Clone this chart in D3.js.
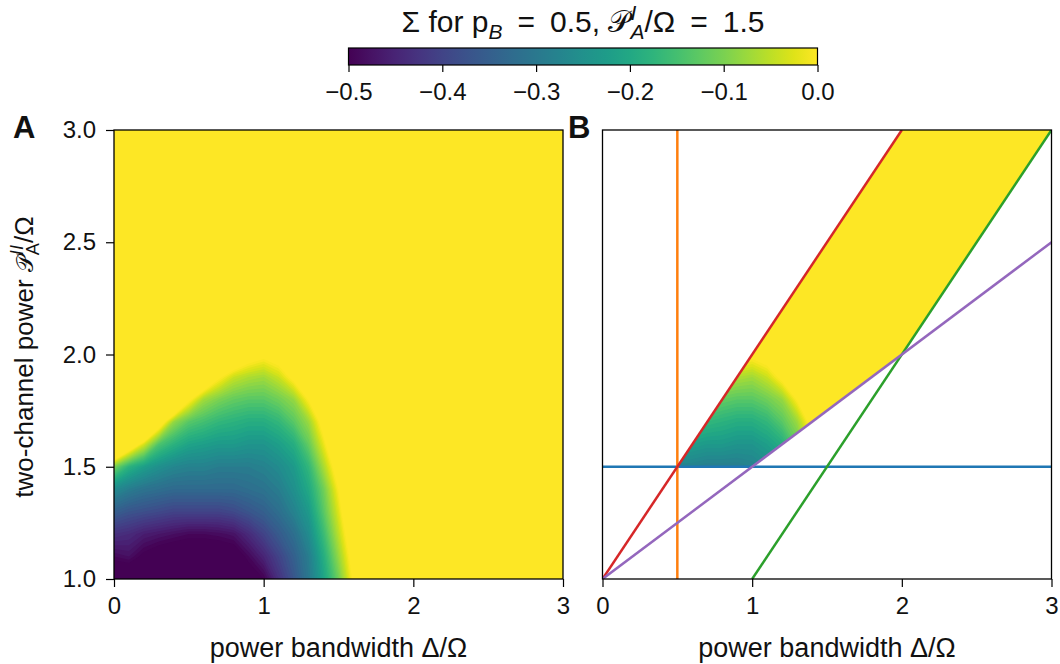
<!DOCTYPE html>
<html>
<head>
<meta charset="utf-8">
<script src="https://cdnjs.cloudflare.com/ajax/libs/d3/7.8.5/d3.min.js"></script>
<style>
  body { margin: 0; background: #fff; }
  svg text { font-family: "Liberation Sans", Arial, sans-serif; fill: #111; }
</style>
</head>
<body>
<div id="chart"></div>
<script>
// Σ map on a 0.1 grid (rows: y = 1.0 .. 2.0, cols: x = 0 .. 1.7).
// Everything >= 0 shows as yellow; the small positive numbers just outside the
// coloured blob only place its edge where the picture has it. Outside the block: 0.
const gridX = [0, 0.1, 0.2, 0.3, 0.4, 0.5, 0.6, 0.7, 0.8, 0.9, 1.0, 1.1, 1.2, 1.3, 1.4, 1.5, 1.6, 1.7];
const gridY = [1.0, 1.1, 1.2, 1.3, 1.4, 1.5, 1.6, 1.7, 1.8, 1.9, 2.0];
const sigmaRows = [
  [-0.55, -0.55, -0.56, -0.57, -0.57, -0.58, -0.58, -0.57, -0.56, -0.53, -0.50, -0.43, -0.37, -0.30, -0.21, -0.11, 0.012, 0],
  [-0.49, -0.48, -0.51, -0.53, -0.54, -0.545, -0.545, -0.54, -0.53, -0.49, -0.45, -0.40, -0.35, -0.29, -0.19, -0.08, 0.034, 0],
  [-0.43, -0.44, -0.46, -0.47, -0.48, -0.49, -0.49, -0.485, -0.475, -0.44, -0.40, -0.36, -0.32, -0.26, -0.16, -0.05, 0.061, 0],
  [-0.35, -0.37, -0.38, -0.39, -0.40, -0.40, -0.40, -0.40, -0.39, -0.37, -0.35, -0.32, -0.28, -0.23, -0.13, -0.025, 0.10, 0],
  [-0.26, -0.29, -0.31, -0.32, -0.33, -0.33, -0.33, -0.33, -0.33, -0.32, -0.31, -0.29, -0.25, -0.20, -0.11, 0.002, 0.10, 0],
  [-0.10, -0.18, -0.22, -0.25, -0.27, -0.28, -0.28, -0.29, -0.29, -0.29, -0.28, -0.26, -0.23, -0.17, -0.065, 0.043, 0, 0],
  [0.23, 0.077, -0.03, -0.14, -0.18, -0.21, -0.22, -0.23, -0.23, -0.24, -0.24, -0.22, -0.19, -0.12, -0.017, 0.10, 0, 0],
  [0, 0, 0.27, 0.06, -0.08, -0.13, -0.15, -0.17, -0.18, -0.19, -0.19, -0.17, -0.13, -0.075, 0.032, 0, 0, 0],
  [0, 0, 0, 0, 0.187, 0.014, -0.07, -0.10, -0.12, -0.13, -0.13, -0.11, -0.08, 0.005, 0, 0, 0, 0],
  [0, 0, 0, 0, 0, 0, 0.105, 0.011, -0.04, -0.06, -0.07, -0.04, 0.02, 0, 0, 0, 0, 0],
  [0, 0, 0, 0, 0, 0, 0, 0, 0.093, 0.04, 0.0175, 0.04, 0, 0, 0, 0, 0, 0]
];

const xDomain = [0, 3];
const yDomain = [1, 3];
const xTicks = [0, 1, 2, 3];
const yTicks = [1.0, 1.5, 2.0, 2.5, 3.0];
const cbDomain = [-0.5, 0];
const cbTicks = [-0.5, -0.4, -0.3, -0.2, -0.1, 0.0];

// panel B: allowed region (heat map shown inside) and boundary lines
const regionB = [[0.5, 1.5], [1, 1.5], [2, 2], [3, 3], [2, 3]];
const lineNames = ['blue', 'orange', 'green', 'red', 'purple'];
const linePoints = [
  [[0, 1.5], [3, 1.5]],
  [[0.5, 1], [0.5, 3]],
  [[1, 1], [3, 3]],
  [[0, 1], [2, 3]],
  [[0, 1], [3, 2.5]]
];
const lineColors = { blue: '#1f77b4', orange: '#ff7f0e', green: '#2ca02c', red: '#d62728', purple: '#9467bd' };

const W = 1060, H = 664;
const svg = d3.select('#chart').append('svg').attr('width', W).attr('height', H);
const defs = svg.append('defs');

const xA = d3.scaleLinear().domain(xDomain).range([114, 563]);
const xB = d3.scaleLinear().domain(xDomain).range([602.5, 1051.5]);
const y = d3.scaleLinear().domain(yDomain).range([579, 130]);
const color = d3.scaleSequential(d3.interpolateViridis).domain(cbDomain).clamp(true);

// full grid over x 0..3, y 1..3 (row 0 = top), for d3.contours
const step = 0.1;
const nx = Math.round((xDomain[1] - xDomain[0]) / step) + 1;
const ny = Math.round((yDomain[1] - yDomain[0]) / step) + 1;
const values = new Array(nx * ny);
for (let j = 0; j < ny; j++) {
  const k = ny - 1 - j;
  for (let i = 0; i < nx; i++) {
    values[j * nx + i] = (k < gridY.length && i < gridX.length) ? sigmaRows[k][i] : 0;
  }
}
const levels = d3.range(-50, 1).map(k => k / 100);
const bands = d3.contours().size([nx, ny]).thresholds(levels)(values);

function mapPath(xs) {
  return d3.geoPath(d3.geoTransform({
    point(px, py) {
      this.stream.point(xs(xDomain[0] - step / 2 + px * step), y(yDomain[1] + step / 2 - py * step));
    }
  }));
}

function drawMap(g, xs) {
  g.append('rect')
    .attr('x', xs(0)).attr('y', y(3)).attr('width', xs(3) - xs(0)).attr('height', y(1) - y(3))
    .attr('fill', color(cbDomain[0]));
  g.selectAll('path.band').data(bands).join('path')
    .attr('class', 'band')
    .attr('d', mapPath(xs))
    .attr('fill', d => color(Math.min(0, d.value + 0.005)));
}

defs.append('clipPath').attr('id', 'clipA').append('rect')
  .attr('x', xA(0)).attr('y', y(3)).attr('width', xA(3) - xA(0)).attr('height', y(1) - y(3));
defs.append('clipPath').attr('id', 'clipB').append('rect')
  .attr('x', xB(0)).attr('y', y(3)).attr('width', xB(3) - xB(0)).attr('height', y(1) - y(3));
const regionPath = d3.line().x(d => xB(d[0])).y(d => y(d[1]));
defs.append('clipPath').attr('id', 'clipRegion').append('path')
  .attr('d', regionPath(regionB) + 'Z');

drawMap(svg.append('g').attr('clip-path', 'url(#clipA)'), xA);
drawMap(svg.append('g').attr('clip-path', 'url(#clipRegion)'), xB);

// panel B lines
const lineGen = d3.line().x(d => xB(d[0])).y(d => y(d[1]));
svg.append('g').attr('clip-path', 'url(#clipB)')
  .selectAll('path').data(linePoints).join('path')
  .attr('d', lineGen)
  .attr('fill', 'none')
  .attr('stroke', (d, i) => lineColors[lineNames[i]])
  .attr('stroke-width', 2.5);

function styleAxis(g) {
  g.attr('font-family', '"Liberation Sans", Arial, sans-serif').attr('font-size', 24);
  g.select('.domain').remove();
  g.selectAll('.tick line').attr('stroke', '#000').attr('stroke-width', 1.2);
  g.selectAll('.tick text').attr('fill', '#111');
}

svg.append('g').attr('transform', `translate(0,${y(1)})`)
  .call(d3.axisBottom(xA).tickValues(xTicks).tickFormat(d3.format('d')).tickSize(8).tickPadding(10))
  .call(styleAxis);
svg.append('g').attr('transform', `translate(0,${y(1)})`)
  .call(d3.axisBottom(xB).tickValues(xTicks).tickFormat(d3.format('d')).tickSize(8).tickPadding(10))
  .call(styleAxis);
svg.append('g').attr('transform', `translate(${xA(0)},0)`)
  .call(d3.axisLeft(y).tickValues(yTicks).tickFormat(d3.format('.1f')).tickSize(8).tickPadding(10))
  .call(styleAxis);

// frames
[xA, xB].forEach(xs => {
  svg.append('rect')
    .attr('x', xs(0)).attr('y', y(3)).attr('width', xs(3) - xs(0)).attr('height', y(1) - y(3))
    .attr('fill', 'none').attr('stroke', '#000').attr('stroke-width', 1.3);
});

// colorbar
const cbX = d3.scaleLinear().domain(cbDomain).range([348.5, 817.5]);
const cbTop = 48, cbH = 17;
const grad = defs.append('linearGradient').attr('id', 'cbGrad');
d3.range(0, 21).forEach(k => {
  grad.append('stop').attr('offset', k / 20).attr('stop-color', d3.interpolateViridis(k / 20));
});
svg.append('rect').attr('x', cbX(-0.5)).attr('y', cbTop).attr('width', cbX(0) - cbX(-0.5)).attr('height', cbH)
  .attr('fill', 'url(#cbGrad)').attr('stroke', '#000').attr('stroke-width', 1.2);
svg.append('g').attr('transform', `translate(0,${cbTop + cbH})`)
  .call(d3.axisBottom(cbX).tickValues(cbTicks).tickFormat(d3.format('.1f')).tickSize(7).tickPadding(11))
  .call(styleAxis);

// text with a stacked sub/superscript
function mathText(parent, x, yy, size, parts, rotate) {
  const t = parent.append('text').attr('font-size', size).attr('text-anchor', 'middle');
  if (rotate) t.attr('transform', `translate(${x},${yy}) rotate(-90)`);
  else t.attr('x', x).attr('y', yy);
  let cur = 0;
  let extra = 0;
  const small = size * 0.7;
  parts.forEach(p => {
    if (p.sub != null || p.sup != null) {
      const subOff = size * 0.24, supOff = -size * 0.4;
      let wSub = 0, wSup = 0;
      if (p.sub != null) {
        const s = t.append('tspan').attr('font-size', small).attr('font-style', p.subIt ? 'italic' : 'normal')
          .attr('dy', subOff - cur).text(p.sub);
        cur = subOff;
        wSub = s.node().getComputedTextLength();
      }
      if (p.sup != null) {
        const s = t.append('tspan').attr('font-size', small).attr('font-style', 'italic')
          .attr('dx', -wSub).attr('dy', supOff - cur).text(p.sup);
        cur = supOff;
        wSup = s.node().getComputedTextLength();
      }
      extra = p.sup != null ? Math.max(0, wSub - wSup) : 0;
    } else {
      const s = t.append('tspan').attr('dy', -cur).text(p.t);
      if (p.size) s.attr('font-size', size * p.size);
      if (extra) s.attr('dx', extra);
      extra = 0;
      cur = 0;
    }
  });
  return t;
}

mathText(svg, 583, 32, 30, [
  { t: 'Σ for p' },
  { sub: 'B', subIt: true },
  { t: '\u2002=\u20020.5, 𝒫' },
  { sub: 'A', sup: 'I', subIt: true },
  { t: '/Ω\u2002=\u20021.5' }
]);

// axis labels
[xA, xB].forEach(xs => {
  svg.append('text').attr('x', (xs(0) + xs(3)) / 2).attr('y', 657)
    .attr('text-anchor', 'middle').attr('font-size', 27).text('power bandwidth Δ/Ω');
});
mathText(svg, 33, 357, 26, [
  { t: 'two-channel power ' },
  { t: '𝒫', size: 0.9 },
  { sub: 'A', sup: 'II', subIt: false },
  { t: '/Ω' }
], true);

// panel letters
svg.append('text').attr('x', 13).attr('y', 138).attr('font-size', 31).attr('font-weight', 'bold').text('A');
svg.append('text').attr('x', 568).attr('y', 138).attr('font-size', 31).attr('font-weight', 'bold').text('B');
</script>
</body>
</html>
